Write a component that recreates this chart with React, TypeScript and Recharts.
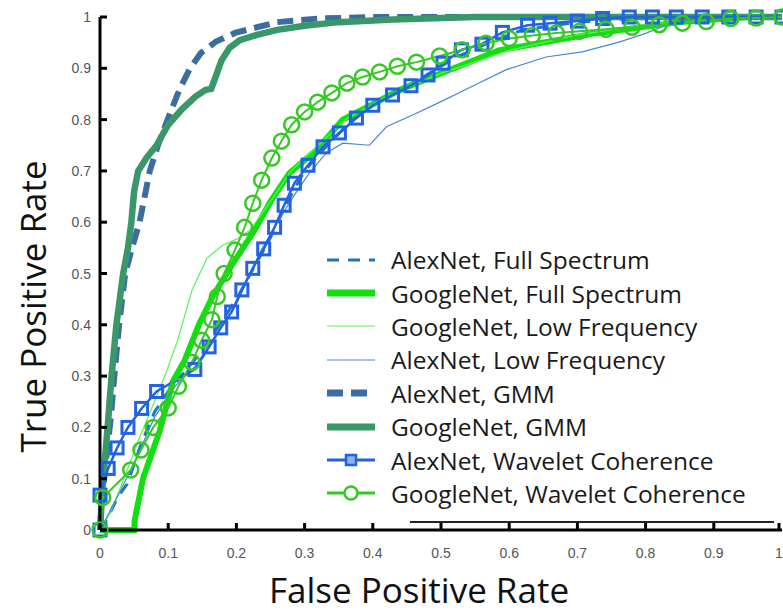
import React from 'react';
import { LineChart, Line, XAxis, YAxis, Legend } from 'recharts';

// axis ticks
const ticks = [0, 0.1, 0.2, 0.3, 0.4, 0.5, 0.6, 0.7, 0.8, 0.9, 1];
const tickLabels = ['0', '0.1', '0.2', '0.3', '0.4', '0.5', '0.6', '0.7', '0.8', '0.9', '1'];

// ROC curves, [false positive rate, true positive rate]
const alexFull = [
  [0, 0], [0.01, 0.02], [0.026, 0.064], [0.04, 0.09], [0.061, 0.17], [0.08, 0.23], [0.1, 0.27],
  [0.125, 0.31], [0.15, 0.35], [0.175, 0.4], [0.2, 0.45], [0.225, 0.51], [0.25, 0.57], [0.275, 0.64],
  [0.3, 0.7], [0.33, 0.745], [0.37, 0.8], [0.42, 0.845], [0.47, 0.88], [0.52, 0.92], [0.57, 0.95],
  [0.62, 0.975], [0.7, 0.99], [0.8, 0.997], [0.9, 1], [1, 1],
];
const googleFull = [
  [0, 0], [0.05, 0], [0.051, 0.02], [0.063, 0.1], [0.088, 0.195], [0.107, 0.29], [0.124, 0.33],
  [0.145, 0.4], [0.165, 0.455], [0.195, 0.52], [0.227, 0.585], [0.25, 0.64], [0.278, 0.696],
  [0.317, 0.74], [0.356, 0.8], [0.4, 0.83], [0.44, 0.858], [0.49, 0.885], [0.585, 0.935],
  [0.73, 0.969], [0.85, 0.99], [0.95, 1], [1, 1],
];
const googleLow = [
  [0, 0], [0.015, 0.033], [0.035, 0.1], [0.055, 0.17], [0.075, 0.235], [0.095, 0.3], [0.114, 0.37],
  [0.135, 0.468], [0.157, 0.53], [0.18, 0.555], [0.2, 0.567], [0.22, 0.585], [0.25, 0.64],
  [0.28, 0.7], [0.32, 0.75], [0.36, 0.8], [0.42, 0.845], [0.5, 0.89], [0.6, 0.935], [0.7, 0.965],
  [0.8, 0.985], [0.9, 0.996], [1, 1],
];
const alexLow = [
  [0, 0], [0.02, 0.05], [0.05, 0.13], [0.08, 0.22], [0.11, 0.28], [0.14, 0.32], [0.17, 0.38],
  [0.2, 0.44], [0.234, 0.54], [0.259, 0.598], [0.283, 0.649], [0.307, 0.696], [0.332, 0.735],
  [0.356, 0.754], [0.395, 0.75], [0.42, 0.786], [0.46, 0.81], [0.5, 0.835], [0.546, 0.865],
  [0.595, 0.897], [0.654, 0.922], [0.707, 0.932], [0.761, 0.951], [0.8, 0.968], [0.83, 0.984],
  [0.87, 0.995], [0.92, 1], [1, 1],
];
const alexGmm = [
  [0, 0], [0.004, 0.07], [0.01, 0.15], [0.016, 0.22], [0.021, 0.3], [0.028, 0.4], [0.037, 0.5],
  [0.047, 0.55], [0.058, 0.6], [0.073, 0.7], [0.085, 0.75], [0.102, 0.81], [0.117, 0.86],
  [0.132, 0.9], [0.148, 0.93], [0.17, 0.952], [0.198, 0.969], [0.23, 0.98], [0.26, 0.99],
  [0.32, 0.997], [0.4, 1], [1, 1],
];
const googleGmm = [
  [0, 0], [0.003, 0.07], [0.008, 0.15], [0.012, 0.214], [0.017, 0.3], [0.024, 0.4], [0.034, 0.5],
  [0.041, 0.55], [0.046, 0.6], [0.05, 0.66], [0.056, 0.7], [0.068, 0.725], [0.083, 0.75],
  [0.1, 0.79], [0.12, 0.82], [0.14, 0.845], [0.155, 0.858], [0.163, 0.86], [0.17, 0.885],
  [0.178, 0.915], [0.19, 0.94], [0.205, 0.955], [0.23, 0.965], [0.26, 0.975], [0.3, 0.983],
  [0.35, 0.99], [0.43, 0.995], [0.55, 1], [1, 1],
];
const alexWavelet = [
  [0, 0], [0, 0.068], [0.012, 0.12], [0.025, 0.16], [0.041, 0.2], [0.061, 0.237], [0.083, 0.27],
  [0.139, 0.313], [0.16, 0.357], [0.177, 0.394], [0.193, 0.425], [0.208, 0.468], [0.224, 0.51],
  [0.24, 0.548], [0.256, 0.59], [0.27, 0.633], [0.285, 0.676], [0.305, 0.711], [0.327, 0.747],
  [0.351, 0.774], [0.376, 0.803], [0.4, 0.828], [0.429, 0.848], [0.456, 0.866], [0.481, 0.887],
  [0.503, 0.91], [0.53, 0.936], [0.56, 0.947], [0.59, 0.97], [0.627, 0.984], [0.66, 0.988],
  [0.7, 0.992], [0.737, 0.997], [0.776, 1], [0.81, 1], [0.845, 1], [0.883, 1], [0.922, 1],
  [0.962, 1], [1, 1],
];
const googleWavelet = [
  [0, 0], [0.004, 0.063], [0.045, 0.117], [0.06, 0.156], [0.078, 0.2], [0.1, 0.238], [0.115, 0.28],
  [0.135, 0.327], [0.149, 0.37], [0.164, 0.41], [0.172, 0.455], [0.182, 0.5], [0.198, 0.546],
  [0.212, 0.59], [0.224, 0.637], [0.237, 0.682], [0.252, 0.725], [0.266, 0.758], [0.281, 0.79],
  [0.3, 0.815], [0.319, 0.834], [0.34, 0.852], [0.362, 0.871], [0.385, 0.883], [0.41, 0.893],
  [0.436, 0.904], [0.464, 0.912], [0.498, 0.924], [0.531, 0.936], [0.566, 0.949], [0.6, 0.958],
  [0.634, 0.964], [0.669, 0.969], [0.703, 0.972], [0.742, 0.976], [0.78, 0.98], [0.82, 0.985],
  [0.854, 0.988], [0.889, 0.991], [0.925, 0.997], [0.962, 0.998], [1, 1],
];

const toRows = (pts: number[][]) => pts.map(([fpr, tpr]) => ({ fpr, tpr }));

type Series = {
  name: string;
  pts: number[][];
  color: string;
  width: number;
  dash?: string;
  marker?: 'square' | 'circle';
};

const series: Series[] = [
  { name: 'AlexNet, Full Spectrum', pts: alexFull, color: '#1f76bd', width: 3, dash: '12 9' },
  { name: 'GoogleNet, Full Spectrum', pts: googleFull, color: '#10e010', width: 6 },
  { name: 'GoogleNet, Low Frequency', pts: googleLow, color: '#55f555', width: 1.2 },
  { name: 'AlexNet, Low Frequency', pts: alexLow, color: '#4a86d4', width: 1.2 },
  { name: 'AlexNet, GMM', pts: alexGmm, color: '#3c6d9f', width: 6, dash: '16 8' },
  { name: 'GoogleNet, GMM', pts: googleGmm, color: '#39976a', width: 6.5 },
  { name: 'AlexNet, Wavelet Coherence', pts: alexWavelet, color: '#2262e4', width: 2.5, marker: 'square' },
  { name: 'GoogleNet, Wavelet Coherence', pts: googleWavelet, color: '#36c924', width: 2, marker: 'circle' },
];

const tickFont = { fill: '#555', fontSize: 14, fontFamily: 'Liberation Sans, Arial, sans-serif' };
const titleFont = { fill: '#111', fontSize: 35, fontFamily: 'Open Sans, sans-serif' };
const labelOf = (v: number) => tickLabels[ticks.indexOf(v)] ?? String(v);

const BottomTick = ({ x, y, payload }: any) => (
  <g>
    <line x1={x} y1={y} x2={x} y2={y - 7} stroke="#000" strokeWidth={3} />
    <text x={x} y={y + 28} textAnchor="middle" {...tickFont}>{labelOf(payload.value)}</text>
  </g>
);
const LeftTick = ({ x, y, payload }: any) => (
  <g>
    <line x1={x} y1={y} x2={x + 7} y2={y} stroke="#000" strokeWidth={3} />
    <text x={x - 9} y={y + 5} textAnchor="end" {...tickFont}>{labelOf(payload.value)}</text>
  </g>
);
const TopTick = ({ x, y }: any) => <line x1={x} y1={y} x2={x} y2={y + 7} stroke="#000" strokeWidth={3} />;
const RightTick = ({ x, y }: any) => <line x1={x} y1={y} x2={x - 7} y2={y} stroke="#000" strokeWidth={3} />;

const markerFor = (s: Series) => {
  if (s.marker === 'square') {
    return (p: any) => (
      <rect key={`sq-${p.index}`} x={p.cx - 6} y={p.cy - 6} width={12} height={12}
        fill="none" stroke={s.color} strokeWidth={3} />
    );
  }
  if (s.marker === 'circle') {
    return (p: any) => (
      <circle key={`ci-${p.index}`} cx={p.cx} cy={p.cy} r={7.5} fill="none" stroke={s.color} strokeWidth={2.5} />
    );
  }
  return false;
};

const LegendSample = ({ s }: { s: Series }) => (
  <svg width={52} height={20} style={{ display: 'block' }}>
    <line x1={2} y1={10} x2={50} y2={10} stroke={s.color}
      strokeWidth={s.marker ? 3 : s.width >= 6 ? 7 : s.width} strokeDasharray={s.dash} />
    {s.marker === 'square' && <rect x={21} y={5} width={10} height={10} fill="#8fb0f0" stroke={s.color} strokeWidth={2.5} />}
    {s.marker === 'circle' && <circle cx={26} cy={10} r={6.5} fill="#fff" stroke={s.color} strokeWidth={2.5} />}
  </svg>
);

const LegendBox = () => (
  <div>
    {series.map((s) => (
      <div key={s.name} style={{ display: 'flex', alignItems: 'center', height: 33.4 }}>
        <LegendSample s={s} />
        <span style={{ marginLeft: 14, fontFamily: 'Open Sans, sans-serif', fontSize: 24.5, color: '#1a1a1a', whiteSpace: 'nowrap', lineHeight: '33px' }}>
          {s.name}
        </span>
      </div>
    ))}
  </div>
);

export default function App() {
  return (
    <div style={{ position: 'absolute', left: 0, top: 0, width: 783, height: 613, background: '#fff', overflow: 'hidden' }}>
      <LineChart width={783} height={613} margin={{ top: 17, right: 1, bottom: 0, left: 0 }}>
        <XAxis
          dataKey="fpr"
          type="number"
          domain={[0, 1]}
          ticks={ticks}
          height={83}
          tickSize={0}
          tickMargin={0}
          tick={<BottomTick />}
          axisLine={{ stroke: '#000', strokeWidth: 3 }}
          label={{
            content: ({ viewBox }: any) => (
              <text x={viewBox.x + viewBox.width / 2 - 22} y={viewBox.y + viewBox.height - 10} textAnchor="middle" {...titleFont}>
                False Positive Rate
              </text>
            ),
          }}
        />
        <XAxis
          xAxisId="top"
          orientation="top"
          type="number"
          domain={[0, 1]}
          ticks={ticks}
          height={0}
          tickSize={0}
          tickMargin={0}
          tick={<TopTick />}
          axisLine={{ stroke: '#000', strokeWidth: 3 }}
        />
        <YAxis
          type="number"
          domain={[0, 1]}
          ticks={ticks}
          width={100}
          tickSize={0}
          tickMargin={0}
          tick={<LeftTick />}
          axisLine={{ stroke: '#000', strokeWidth: 3 }}
          label={{
            content: ({ viewBox }: any) => {
              const cy = viewBox.y + viewBox.height / 2 + 33;
              return (
                <text x={46} y={cy} transform={`rotate(-90 46 ${cy})`} textAnchor="middle" {...titleFont}>
                  True Positive Rate
                </text>
              );
            },
          }}
        />
        <YAxis
          yAxisId="right"
          orientation="right"
          type="number"
          domain={[0, 1]}
          ticks={ticks}
          width={0}
          tickSize={0}
          tickMargin={0}
          tick={<RightTick />}
          axisLine={{ stroke: '#000', strokeWidth: 3 }}
        />
        {series.map((s) => (
          <Line
            key={s.name}
            data={toRows(s.pts)}
            dataKey="tpr"
            name={s.name}
            type="linear"
            stroke={s.color}
            strokeWidth={s.width}
            strokeDasharray={s.dash}
            dot={markerFor(s)}
            activeDot={false}
            isAnimationActive={false}
          />
        ))}
        <Legend
          layout="vertical"
          align="center"
          verticalAlign="middle"
          wrapperStyle={{ left: 325, top: 243, width: 455 }}
          content={() => <LegendBox />}
        />
      </LineChart>
      <div style={{ position: 'absolute', left: 410, top: 521, width: 364, height: 2, background: '#222' }} />
    </div>
  );
}
